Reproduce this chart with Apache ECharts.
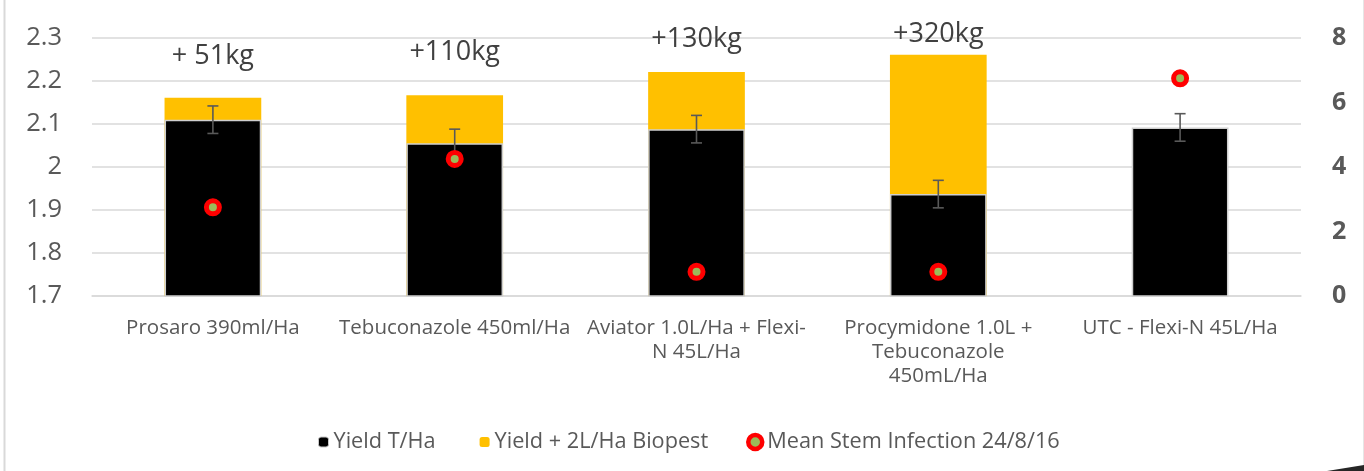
<!DOCTYPE html>
<html>
<head>
<meta charset="utf-8">
<script src="https://cdn.jsdelivr.net/npm/echarts@6/dist/echarts.min.js"></script>
<style>
html,body{margin:0;padding:0;background:#fff;}
#chart{width:1364px;height:471px;}
</style>
</head>
<body>
<div id="chart"></div>
<script>
// ---- data ----
const categories = [
  'Prosaro 390ml/Ha',
  'Tebuconazole 450ml/Ha',
  'Aviator 1.0L/Ha + Flexi-\nN 45L/Ha',
  'Procymidone 1.0L +\nTebuconazole\n450mL/Ha',
  'UTC - Flexi-N 45L/Ha'
];
const yieldValues   = [2.110, 2.055, 2.088, 1.937, 2.092];
const biopestValues = [2.161, 2.167, 2.221, 2.261, null];
const yieldError    = [0.032, 0.033, 0.032, 0.032, 0.032];
const stemInfection = [2.75, 4.25, 0.75, 0.75, 6.75];
const gainLabels    = ['+ 51kg', '+110kg', '+130kg', '+320kg', ''];
const leftAxis  = { min: 1.7, max: 2.3, interval: 0.1 };
const rightAxis = { min: 0, max: 8, interval: 2 };

// ---- layout constants ----
const gainLabelDistance = [28, 29, 19, 7, 0];
const FONT = '"Open Sans", "Noto Sans", sans-serif';

const chart = echarts.init(document.getElementById('chart'), null, { renderer: 'canvas' });

const biopestData = biopestValues.map((v, i) => ({
  value: v,
  label: { distance: gainLabelDistance[i] }
}));
const errorData = yieldValues.map((v, i) => [i, v - yieldError[i], v + yieldError[i]]);

const option = {
  backgroundColor: '#ffffff',
  animation: false,
  textStyle: { fontFamily: FONT },
  grid: { left: 92, right: 63, top: 38, bottom: 175, containLabel: false },
  legend: [
    {
      data: [
        { name: 'Yield T/Ha', itemStyle: { color: '#000000', borderColor: '#c8c8c8', borderWidth: 1 } },
        { name: 'Yield + 2L/Ha Biopest', itemStyle: { color: '#ffc000' } }
      ],
      left: 313, top: 426,
      itemWidth: 10, itemHeight: 10, itemGap: 44,
      textStyle: { fontFamily: FONT, fontSize: 21.7, color: '#595959', padding: [0, 0, 0, 0] },
      selectedMode: false
    },
    {
      data: [
        { name: 'Mean Stem Infection 24/8/16', icon: 'circle',
          itemStyle: { color: '#9bbb59', borderColor: '#ff0000', borderWidth: 4.5 } }
      ],
      left: 741, top: 426,
      itemWidth: 14, itemHeight: 14,
      textStyle: { fontFamily: FONT, fontSize: 21.7, color: '#595959', padding: [0, 0, 0, 0] },
      selectedMode: false
    }
  ],
  xAxis: {
    type: 'category',
    data: categories,
    axisLine: { show: true, lineStyle: { color: '#d9d9d9', width: 1.5 } },
    axisTick: { show: false },
    axisLabel: {
      interval: 0, margin: 20,
      fontFamily: FONT, fontSize: 20.5, color: '#595959', lineHeight: 24
    }
  },
  yAxis: [
    {
      type: 'value', min: leftAxis.min, max: leftAxis.max, interval: leftAxis.interval,
      axisLine: { show: false }, axisTick: { show: false },
      splitLine: { show: true, lineStyle: { color: '#d9d9d9', width: 1.5 } },
      axisLabel: {
        margin: 30, fontFamily: FONT, fontSize: 25.5, color: '#595959',
        formatter: v => String(Math.round(v * 10) / 10)
      }
    },
    {
      type: 'value', min: rightAxis.min, max: rightAxis.max, interval: rightAxis.interval,
      position: 'right',
      axisLine: { show: false }, axisTick: { show: false },
      splitLine: { show: false },
      axisLabel: {
        margin: 31, fontFamily: FONT, fontSize: 25, fontWeight: 'bold', color: '#595959'
      }
    }
  ],
  series: [
    {
      name: 'Yield + 2L/Ha Biopest',
      type: 'bar',
      data: biopestData,
      barCategoryGap: '60%',
      barGap: '-100%',
      itemStyle: { color: '#ffc000' },
      label: {
        show: true, position: 'top',
        formatter: p => gainLabels[p.dataIndex],
        fontFamily: FONT, fontSize: 27, color: '#404040'
      },
      z: 2
    },
    {
      name: 'Yield T/Ha',
      type: 'bar',
      data: yieldValues,
      barCategoryGap: '60%',
      barGap: '-100%',
      itemStyle: { color: '#000000', borderColor: '#cfcfcf', borderWidth: 1.5 },
      z: 3
    },
    {
      name: 'Yield error',
      type: 'custom',
      data: errorData,
      encode: { x: 0, y: [1, 2] },
      z: 4,
      renderItem: function (params, api) {
        const idx = api.value(0);
        const lo = api.coord([idx, api.value(1)]);
        const hi = api.coord([idx, api.value(2)]);
        const half = 5.5;
        const style = { stroke: '#595959', lineWidth: 1.6 };
        return {
          type: 'group',
          children: [
            { type: 'line', shape: { x1: hi[0], y1: hi[1], x2: lo[0], y2: lo[1] }, style },
            { type: 'line', shape: { x1: hi[0] - half, y1: hi[1], x2: hi[0] + half, y2: hi[1] }, style },
            { type: 'line', shape: { x1: lo[0] - half, y1: lo[1], x2: lo[0] + half, y2: lo[1] }, style }
          ]
        };
      }
    },
    {
      name: 'Mean Stem Infection 24/8/16',
      type: 'scatter',
      yAxisIndex: 1,
      data: stemInfection,
      symbol: 'circle',
      symbolSize: 13,
      itemStyle: { color: '#9bbb59', borderColor: '#ff0000', borderWidth: 5, opacity: 1 },
      z: 5
    }
  ],
  graphic: [
    { type: 'line', shape: { x1: 4.5, y1: 0, x2: 4.5, y2: 471 }, style: { stroke: '#d9d9d9', lineWidth: 2 }, silent: true },
    { type: 'line', shape: { x1: 1363.5, y1: 0, x2: 1363.5, y2: 471 }, style: { stroke: '#e6e6e6', lineWidth: 1 }, silent: true },
    { type: 'polygon', shape: { points: [[1327, 471], [1364, 465], [1364, 471]] }, style: { fill: '#262626' }, silent: true }
  ]
};

chart.setOption(option);
</script>
</body>
</html>
